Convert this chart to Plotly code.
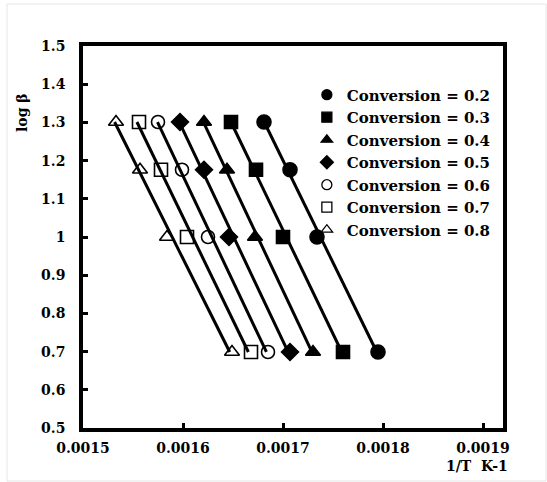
import numpy as np
import plotly.graph_objects as go

# Data
log_beta = [1.301, 1.176, 1.0, 0.699]
conversions = ["0.2", "0.3", "0.4", "0.5", "0.6", "0.7", "0.8"]
inv_T = {
    "0.2": [0.001681, 0.001707, 0.001734, 0.001795],
    "0.3": [0.001648, 0.001673, 0.001700, 0.001760],
    "0.4": [0.001621, 0.001644, 0.001672, 0.001730],
    "0.5": [0.001597, 0.001621, 0.001646, 0.001707],
    "0.6": [0.001575, 0.001599, 0.001625, 0.001685],
    "0.7": [0.001556, 0.001578, 0.001604, 0.001668],
    "0.8": [0.001533, 0.001557, 0.001584, 0.001649],
}
symbols = ["circle", "square", "triangle-up", "diamond",
           "circle-open", "square-open", "triangle-up-open"]
x_ticks = [0.0015, 0.0016, 0.0017, 0.0018, 0.0019]
x_tick_text = ["0.0015", "0.0016", "0.0017", "0.0018", "0.0019"]
y_ticks = [0.5, 0.6, 0.7, 0.8, 0.9, 1.0, 1.1, 1.2, 1.3, 1.4, 1.5]
y_tick_text = ["0.5", "0.6", "0.7", "0.8", "0.9", "1", "1.1", "1.2", "1.3", "1.4", "1.5"]

FONT = "DejaVu Serif"

fig = go.Figure()

# Linear trend lines
for c in conversions:
    xs = np.array(inv_T[c])
    ys = np.array(log_beta)
    a, b = np.polyfit(ys, xs, 1)
    yl = np.array([max(log_beta), min(log_beta)])
    fig.add_trace(go.Scatter(x=a * yl + b, y=yl, mode="lines",
                             line=dict(color="black", width=3),
                             showlegend=False, hoverinfo="skip"))

# Markers
sizes = {"circle": 14, "square": 13, "triangle-up": 13, "diamond": 13,
         "circle-open": 13, "square-open": 13, "triangle-up-open": 13}
for c, s in zip(conversions, symbols):
    fig.add_trace(go.Scatter(
        x=inv_T[c], y=log_beta, mode="markers",
        name=f"Conversion = {c}", legendgroup=c, showlegend=False,
        marker=dict(symbol=s, size=sizes[s], color="black",
                    line=dict(color="black", width=1.6)),
    ))
    # legend entry with smaller symbol
    fig.add_trace(go.Scatter(
        x=[None], y=[None], mode="markers",
        name=f"Conversion = {c}", legendgroup=c,
        marker=dict(symbol=s, size=10, color="black",
                    line=dict(color="black", width=1.3)),
    ))

fig.update_layout(
    width=547, height=482,
    margin=dict(l=83, r=44, t=46, b=54),
    paper_bgcolor="white", plot_bgcolor="white",
    font=dict(family=FONT, size=14, color="black"),
    legend=dict(x=0.983, y=0.915, xanchor="right", yanchor="top",
                bgcolor="rgba(0,0,0,0)", borderwidth=0,
                font=dict(family=FONT, size=15, color="black", weight="bold"),
                itemsizing="trace", tracegroupgap=0, itemwidth=30),
    xaxis=dict(range=[0.0015, 0.00192], tickvals=x_ticks, ticktext=x_tick_text,
               showgrid=False, zeroline=False, showline=True, linecolor="black",
               linewidth=3.5, mirror=True, ticks="inside", ticklen=5, tickwidth=3,
               tickcolor="black", ticklabelstandoff=4,
               tickfont=dict(family=FONT, size=14, color="black", weight="bold")),
    yaxis=dict(range=[0.5, 1.5], tickvals=y_ticks, ticktext=y_tick_text,
               showgrid=False, zeroline=False, showline=True, linecolor="black",
               linewidth=3.5, mirror=True, ticks="inside", ticklen=5, tickwidth=3,
               tickcolor="black", ticklabelstandoff=11,
               tickfont=dict(family=FONT, size=14, color="black", weight="bold")),
    annotations=[
        dict(text="log β", xref="paper", yref="paper",
             x=(22 - 83) / 420, y=1 - (112 - 46) / 382, textangle=-90,
             showarrow=False, xanchor="center", yanchor="middle",
             font=dict(family=FONT, size=14, color="black", weight="bold")),
        dict(text="1/T  K-1", xref="paper", yref="paper",
             x=(510 - 83) / 420, y=-(466 - 428) / 382,
             showarrow=False, xanchor="right", yanchor="middle",
             font=dict(family=FONT, size=14, color="black", weight="bold")),
    ],
    shapes=[dict(type="rect", xref="paper", yref="paper",
                 x0=(7 - 83) / 420, x1=(546 - 83) / 420,
                 y0=-(481 - 428) / 382, y1=1 + (46 - 4) / 382,
                 line=dict(color="#e6e6e6", width=1), layer="below")],
)

fig.write_html("out.html")
